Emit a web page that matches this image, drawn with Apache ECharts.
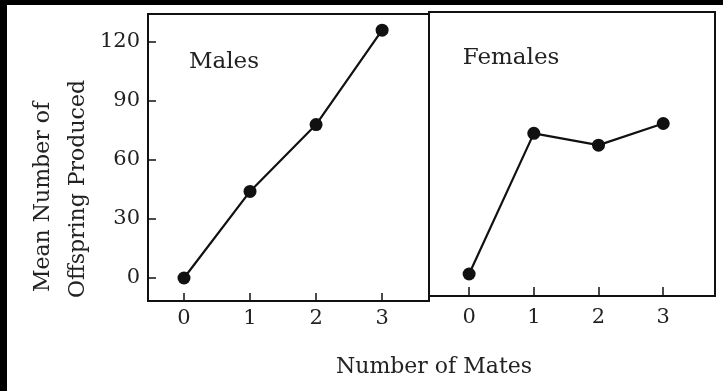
<!DOCTYPE html>
<html lang="en">
<head>
    <meta charset="UTF-8">
    <title>Mean number of offspring by number of mates</title>
    <script src="https://cdn.jsdelivr.net/npm/echarts@6/dist/echarts.min.js"></script>
    <style>
        html, body { margin:0; padding:0; background:#fff; }
    </style>
</head>
<body>

    <div id="main" style="width:723px; height:391px;"></div>

    <script>
        // data
        var mates = [0, 1, 2, 3];
        var malesOffspring = [0, 44, 78, 126];
        var femalesOffspring = [0.5, 72, 66, 77];
        var yTicks = [0, 30, 60, 90, 120];

        var FONT = 'DejaVu Serif';
        var INK = '#111';

        function pairs(ys) {
            return mates.map(function (m, i) { return [m, ys[i]]; });
        }

        var charts = echarts.init(document.getElementById("main"));

        var options = {
            backgroundColor: '#fff',
            animation: false,
            grid: [
                {left: 148, right: 294, top: 14, bottom: 90, show: true, borderColor: INK, borderWidth: 2},
                {left: 429, right: 8, top: 12, bottom: 95, show: true, borderColor: INK, borderWidth: 2}
            ],
            xAxis: [
                {
                    type: 'value', gridIndex: 0, min: -0.545, max: 3.71,
                    splitLine: {show: false}, axisLine: {show: false, onZero: false},
                    axisTick: {inside: true, length: 8, customValues: mates, lineStyle: {color: INK, width: 1.5}},
                    axisLabel: {customValues: mates, margin: 7, fontFamily: FONT, fontSize: 21, color: '#222'}
                },
                {
                    type: 'value', gridIndex: 1, min: -0.62, max: 3.8,
                    splitLine: {show: false}, axisLine: {show: false, onZero: false},
                    axisTick: {inside: true, length: 9, customValues: mates, lineStyle: {color: INK, width: 1.5}},
                    axisLabel: {customValues: mates, margin: 11, fontFamily: FONT, fontSize: 21, color: '#222'}
                }
            ],
            yAxis: [
                {
                    type: 'value', gridIndex: 0, min: -11.7, max: 134.2,
                    splitLine: {show: false}, axisLine: {show: false, onZero: false},
                    axisTick: {inside: true, length: 8, customValues: yTicks, lineStyle: {color: INK, width: 1.5}},
                    axisLabel: {customValues: yTicks, margin: 8, fontFamily: FONT, fontSize: 21, color: '#222'}
                },
                {
                    type: 'value', gridIndex: 1, min: -10.7, max: 133.7, show: false
                }
            ],
            graphic: [
                // black scan edges
                {type: 'rect', shape: {x: 0, y: 0, width: 723, height: 5}, style: {fill: '#000'}},
                {type: 'rect', shape: {x: 0, y: 0, width: 7, height: 391}, style: {fill: '#000'}},
                {type: 'text', x: 224, y: 62, style: {text: 'Males', font: '23px "' + FONT + '"', fill: '#222', align: 'center', verticalAlign: 'middle'}},
                {type: 'text', x: 511, y: 58, style: {text: 'Females', font: '23px "' + FONT + '"', fill: '#222', align: 'center', verticalAlign: 'middle'}},
                {type: 'text', x: 434, y: 367, style: {text: 'Number of Mates', font: '22px "' + FONT + '"', fill: '#222', align: 'center', verticalAlign: 'middle'}},
                {type: 'text', x: 43, y: 197, rotation: Math.PI / 2, style: {text: 'Mean Number of', font: '22px "' + FONT + '"', fill: '#222', align: 'center', verticalAlign: 'middle'}},
                {type: 'text', x: 78, y: 189, rotation: Math.PI / 2, style: {text: 'Offspring Produced', font: '22px "' + FONT + '"', fill: '#222', align: 'center', verticalAlign: 'middle'}}
            ],
            series: [
                {
                    type: 'line', name: 'Males', xAxisIndex: 0, yAxisIndex: 0,
                    data: pairs(malesOffspring),
                    symbol: 'circle', symbolSize: 13,
                    lineStyle: {color: INK, width: 2.2},
                    itemStyle: {color: INK}
                },
                {
                    type: 'line', name: 'Females', xAxisIndex: 1, yAxisIndex: 1,
                    data: pairs(femalesOffspring),
                    symbol: 'circle', symbolSize: 13,
                    lineStyle: {color: INK, width: 2.2},
                    itemStyle: {color: INK}
                }
            ]
        };

        charts.setOption(options);
    </script>
</body>
</html>
